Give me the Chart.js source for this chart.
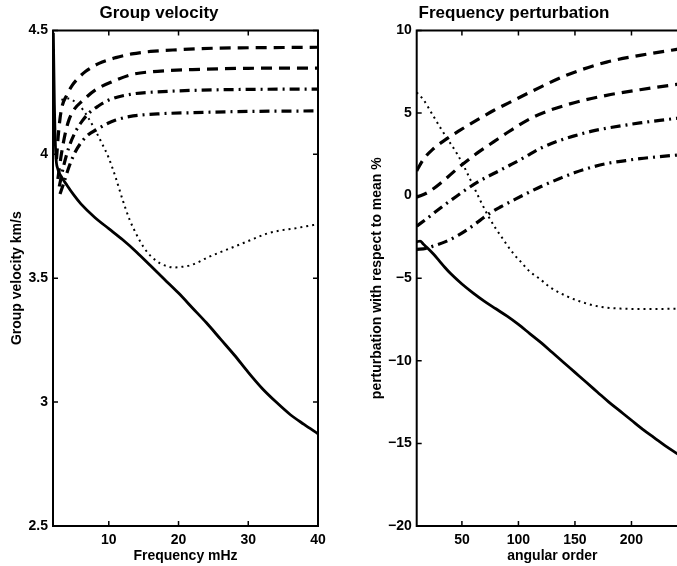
<!DOCTYPE html>
<html><head><meta charset="utf-8">
<script src="https://cdn.jsdelivr.net/npm/chart.js@4.4.1/dist/chart.umd.min.js"></script>
<style>
html,body{margin:0;padding:0;background:#fff;overflow:hidden;width:677px;height:566px;position:relative;}
#c1{position:absolute;left:0;top:0;}
#c2{position:absolute;left:340px;top:0;}
</style></head><body>
<canvas id="c1" width="340" height="566" style="width:340px;height:566px"></canvas>
<canvas id="c2" width="350" height="566" style="width:350px;height:566px"></canvas>
<script>
// ---------- Left panel: Group velocity ----------
const gvFreqTicks = [10, 20, 30, 40];
const gvVelTicks = [2.5, 3, 3.5, 4, 4.5];
const gvVelTickLabels = ['2.5', '3', '3.5', '4', '4.5'];

const gvSolidF = [2.05, 2.2, 2.4, 2.7, 3.2, 4.0, 5.0, 6.0, 8.0, 10.0, 12.0, 14.0, 16.0, 18.0, 20.0, 22.0, 24.0, 26.0, 28.0, 30.0, 32.0, 34.0, 36.0, 38.0, 40.0];
const gvSolidV = [4.49, 4.2, 4.0, 3.94, 3.91, 3.875, 3.835, 3.80, 3.745, 3.70, 3.655, 3.605, 3.55, 3.495, 3.44, 3.38, 3.32, 3.255, 3.19, 3.12, 3.055, 3.0, 2.95, 2.91, 2.872];

const gvDashAF = [2.5, 2.8, 3.2, 4.0, 4.8, 5.7, 6.7, 8.6, 11.0, 13.3, 16.0, 20.0, 25.0, 30.0, 35.0, 40.0];
const gvDashAV = [3.98, 4.09, 4.18, 4.24, 4.28, 4.31, 4.335, 4.367, 4.39, 4.405, 4.415, 4.422, 4.428, 4.43, 4.431, 4.432];

const gvDashBF = [2.7, 3.2, 3.8, 4.3, 5.0, 6.2, 8.1, 10.5, 13.3, 17, 22, 30, 40];
const gvDashBV = [3.90, 4.00, 4.09, 4.14, 4.18, 4.215, 4.26, 4.293, 4.322, 4.335, 4.342, 4.347, 4.348];

const gvDashDotCF = [2.9, 3.5, 4.3, 5.2, 6.2, 7.1, 8.5, 10, 13.3, 17, 22, 30, 40];
const gvDashDotCV = [3.87, 3.95, 4.03, 4.09, 4.135, 4.165, 4.195, 4.219, 4.243, 4.252, 4.258, 4.262, 4.263];

const gvDashDotDF = [3.0, 3.5, 4.3, 5.2, 6.1, 7.1, 8.3, 9.5, 11, 12.9, 17, 22, 30, 40];
const gvDashDotDV = [3.84, 3.88, 3.95, 4.01, 4.05, 4.08, 4.10, 4.12, 4.138, 4.152, 4.163, 4.168, 4.173, 4.175];

const gvDotF = [3.2, 4.2, 5.0, 6.0, 7.0, 8.0, 9.0, 10.0, 11.0, 12.0, 13.0, 14.0, 15.0, 16.0, 17.4, 18.4, 19.3, 20.5, 21.7, 23.0, 24.1, 26.0, 27.9, 30.0, 32.7, 34.5, 36.5, 38.0, 40.0];
const gvDotV = [4.22, 4.225, 4.215, 4.19, 4.15, 4.10, 4.045, 3.985, 3.905, 3.815, 3.735, 3.675, 3.625, 3.59, 3.559, 3.548, 3.543, 3.546, 3.552, 3.567, 3.583, 3.605, 3.626, 3.65, 3.68, 3.692, 3.70, 3.708, 3.718];

// ---------- Right panel: Frequency perturbation ----------
const fpOrderTicks = [50, 100, 150, 200];
const fpPertTicks = [-20, -15, -10, -5, 0, 5, 10];
const fpPertTickLabels = ['\u221220', '\u221215', '\u221210', '\u22125', '0', '5', '10'];

const fpSolidL = [10, 13, 16, 20, 25, 30, 35, 40, 50, 60, 70, 80, 90, 100, 110, 120, 130, 140, 150, 160, 170, 180, 190, 200, 210, 220, 230, 240, 250];
const fpSolidP = [-2.8, -2.75, -2.95, -3.2, -3.55, -3.95, -4.35, -4.72, -5.35, -5.9, -6.4, -6.85, -7.3, -7.8, -8.35, -8.9, -9.5, -10.1, -10.7, -11.3, -11.9, -12.5, -13.05, -13.6, -14.15, -14.65, -15.15, -15.6, -16.05];

const fpDashAL = [10, 16, 25, 33, 47, 64, 78, 91, 113, 143, 178, 207.5, 240, 250];
const fpDashAP = [1.5, 2.2, 2.85, 3.27, 3.9, 4.6, 5.15, 5.6, 6.35, 7.3, 8.08, 8.49, 8.85, 8.95];

const fpDashBL = [10, 20, 31, 48, 64, 78, 91, 113, 143, 178, 207.5, 240, 250];
const fpDashBP = [-0.1, 0.2, 0.75, 1.75, 2.6, 3.25, 3.85, 4.75, 5.5, 6.07, 6.41, 6.73, 6.82];

const fpDashDotCL = [10, 19, 31, 45, 54.4, 66, 80, 92.7, 105, 119, 135, 148.6, 165, 178, 195, 207.5, 225, 240, 250];
const fpDashDotCP = [-1.85, -1.39, -0.75, -0.05, 0.4, 0.9, 1.4, 1.85, 2.3, 2.85, 3.3, 3.6, 3.9, 4.08, 4.27, 4.4, 4.55, 4.68, 4.75];

const fpDashDotDL = [10, 18, 25, 35, 45.6, 55, 66, 75, 84, 95, 107, 120, 137, 150, 165, 178, 195, 207.5, 225, 240, 250];
const fpDashDotDP = [-3.25, -3.2, -3.05, -2.8, -2.45, -2.05, -1.5, -1.05, -0.69, -0.3, 0.12, 0.55, 1.05, 1.4, 1.72, 1.94, 2.12, 2.24, 2.36, 2.45, 2.5];

const fpDotL = [10, 16, 24, 31, 38, 46, 53, 60, 67, 73, 80, 85, 90, 96, 102, 110, 119, 128, 143, 155, 166, 178, 190, 205, 220, 240, 250];
const fpDotP = [6.25, 5.8, 4.9, 4.1, 3.35, 2.5, 1.6, 0.6, -0.4, -1.2, -2.0, -2.5, -3.0, -3.55, -4.0, -4.6, -5.05, -5.55, -6.1, -6.42, -6.64, -6.78, -6.84, -6.86, -6.86, -6.85, -6.84];

// ---------- styles ----------
const STYLE = {
  solid:   { borderWidth: 2.8, borderDash: [] },
  dash:    { borderWidth: 3.2, borderDash: [11, 7] },
  dashdot: { borderWidth: 3.2, borderDash: [10, 5, 2, 5] },
  dot:     { borderWidth: 2, borderDash: [2, 4] }
};
function ds(xs, ys, style) {
  return Object.assign({
    data: xs.map((x, i) => ({ x: x, y: ys[i] })),
    borderColor: '#000', backgroundColor: '#000',
    pointRadius: 0, fill: false, cubicInterpolationMode: 'monotone'
  }, STYLE[style]);
}

Chart.defaults.font.family = "'Liberation Sans', Arial, Helvetica, sans-serif";
Chart.defaults.font.weight = 'bold';
Chart.defaults.color = '#000';

const framePlugin = {
  id: 'frame',
  afterDraw(chart, args, opts) {
    const { ctx, chartArea: a } = chart;
    const xs = chart.scales.x, ys = chart.scales.y;
    ctx.save();
    ctx.strokeStyle = '#000';
    ctx.lineWidth = 2;
    ctx.beginPath();
    ctx.moveTo(a.left, a.top); ctx.lineTo(a.left, a.bottom);
    ctx.moveTo(a.left - 1, a.bottom); ctx.lineTo(a.right + 1, a.bottom);
    ctx.moveTo(a.left - 1, a.top); ctx.lineTo(a.right + 1, a.top);
    if (opts.right) { ctx.moveTo(a.right, a.top); ctx.lineTo(a.right, a.bottom); }
    ctx.stroke();
    ctx.lineWidth = 1.5;
    const L = 5;
    ctx.beginPath();
    xs.ticks.forEach(t => {
      const p = xs.getPixelForValue(t.value);
      ctx.moveTo(p, a.bottom); ctx.lineTo(p, a.bottom - L);
      ctx.moveTo(p, a.top); ctx.lineTo(p, a.top + L);
    });
    ys.ticks.forEach(t => {
      const p = ys.getPixelForValue(t.value);
      ctx.moveTo(a.left, p); ctx.lineTo(a.left + L, p);
      if (opts.right) { ctx.moveTo(a.right, p); ctx.lineTo(a.right - L, p); }
    });
    ctx.stroke();
    ctx.restore();
  }
};

function makeOptions(o) {
  return {
    responsive: false, animation: false, devicePixelRatio: 1,
    layout: { padding: { left: 0, right: o.padRight, top: 0, bottom: 0 } },
    plugins: {
      legend: { display: false }, tooltip: { enabled: false },
      title: { display: true, text: o.title, color: '#000', font: { size: 17, weight: 'bold' }, padding: { top: 3, bottom: 7 } },
      frame: { right: o.frameRight }
    },
    scales: {
      x: {
        type: 'linear', min: o.xmin, max: o.xmax,
        grid: { display: false, drawTicks: false }, border: { display: false },
        afterBuildTicks: s => { s.ticks = o.xTicks.map(v => ({ value: v })); },
        afterFit: s => { s.height = 40; },
        ticks: { padding: 6, autoSkip: false, maxRotation: 0, color: '#000', font: { size: 14, weight: 'bold' }, callback: (v) => String(v) },
        title: { display: true, text: o.xTitle, color: '#000', font: { size: 14, weight: 'bold' }, padding: { top: 0, bottom: 1 } }
      },
      y: {
        type: 'linear', min: o.ymin, max: o.ymax,
        grid: { display: false, drawTicks: false }, border: { display: false },
        afterBuildTicks: s => { s.ticks = o.yTicks.map(v => ({ value: v })); },
        afterFit: s => { s.width = o.yWidth; },
        ticks: { padding: 5, autoSkip: false, color: '#000', font: { size: 14, weight: 'bold' }, callback: (v, i) => o.yLabels[i] },
        title: { display: true, text: o.yTitle, color: '#000', font: { size: 14, weight: 'bold' }, padding: { top: o.yTitlePad, bottom: 0 } }
      }
    }
  };
}

new Chart(document.getElementById('c1'), {
  type: 'line',
  data: { datasets: [
    ds(gvDashAF, gvDashAV, 'dash'),
    ds(gvDashBF, gvDashBV, 'dash'),
    ds(gvDashDotCF, gvDashDotCV, 'dashdot'),
    ds(gvDashDotDF, gvDashDotDV, 'dashdot'),
    ds(gvDotF, gvDotV, 'dot'),
    ds(gvSolidF, gvSolidV, 'solid')
  ] },
  options: makeOptions({
    title: 'Group velocity', xTitle: 'Frequency mHz', yTitle: 'Group velocity km/s',
    xmin: 2, xmax: 40, ymin: 2.5, ymax: 4.5,
    xTicks: gvFreqTicks, yTicks: gvVelTicks, yLabels: gvVelTickLabels,
    padRight: 22, yWidth: 53, yTitlePad: 9, frameRight: true
  }),
  plugins: [framePlugin]
});

new Chart(document.getElementById('c2'), {
  type: 'line',
  data: { datasets: [
    ds(fpDashAL, fpDashAP, 'dash'),
    ds(fpDashBL, fpDashBP, 'dash'),
    ds(fpDashDotCL, fpDashDotCP, 'dashdot'),
    ds(fpDashDotDL, fpDashDotDP, 'dashdot'),
    ds(fpDotL, fpDotP, 'dot'),
    ds(fpSolidL, fpSolidP, 'solid')
  ] },
  options: makeOptions({
    title: 'Frequency perturbation', xTitle: 'angular order', yTitle: 'perturbation with respect to mean %',
    xmin: 10, xmax: 250, ymin: -20, ymax: 10,
    xTicks: fpOrderTicks, yTicks: fpPertTicks, yLabels: fpPertTickLabels,
    padRight: 2, yWidth: 76.7, yTitlePad: 29, frameRight: true
  }),
  plugins: [framePlugin]
});
</script>
</body></html>
